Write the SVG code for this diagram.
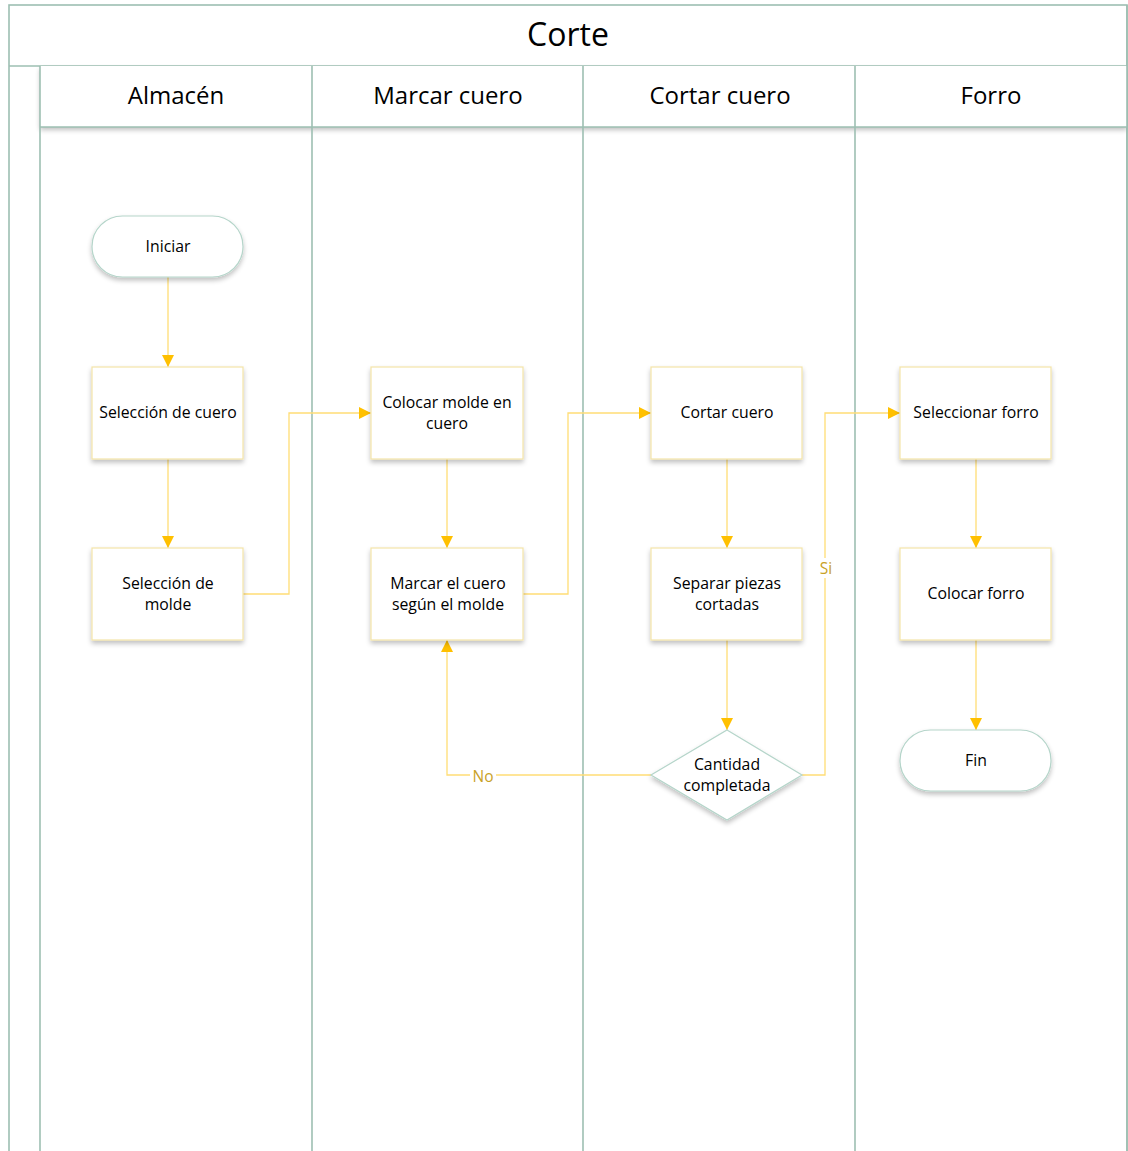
<svg xmlns="http://www.w3.org/2000/svg" width="1128" height="1151" viewBox="0 0 1128 1151">
<style>
.lane{fill:none;stroke:#9DBFB2;stroke-width:1.6}
.box{fill:#fff;stroke:#F3E4A9;stroke-width:1.2}
.term{fill:#fff;stroke:#B5D5CA;stroke-width:1.2}
.t{font-family:"Open Sans","Noto Sans",sans-serif;fill:#000;text-anchor:middle}
.nt{font-size:15.8px}
.hd{font-size:24px}
.lbl{font-family:"Open Sans","Noto Sans",sans-serif;font-size:15.5px;fill:#C9A227;text-anchor:middle}
.c{fill:none;stroke:#FFDD75;stroke-width:1.3}
</style>
<defs>
<filter id="sh" x="-20%" y="-20%" width="140%" height="150%">
<feGaussianBlur in="SourceAlpha" stdDeviation="2.5"/>
<feOffset dx="0" dy="3" result="b"/>
<feComponentTransfer><feFuncA type="linear" slope="0.25"/></feComponentTransfer>
<feMerge><feMergeNode/><feMergeNode in="SourceGraphic"/></feMerge>
</filter>
<marker id="ar" markerWidth="12" markerHeight="12" viewBox="0 0 12 12" refX="12" refY="6" orient="auto" markerUnits="userSpaceOnUse">
<path d="M0,0 L12,6 L0,12 Z" fill="#FFC000"/>
</marker>
</defs>
<rect width="1128" height="1151" fill="#fff"/>
<g id="pool">
<rect x="9" y="5" width="1118" height="1160" class="lane"/>
<line x1="9" y1="66" x2="1127" y2="66" class="lane"/>
<text x="568" y="46" class="t" font-size="32">Corte</text>
<rect x="40" y="66" width="1087" height="61" fill="#fff" filter="url(#sh)"/>
<line x1="40" y1="127" x2="1127" y2="127" class="lane"/>
<line x1="40" y1="66" x2="40" y2="1151" class="lane"/>
<line x1="312" y1="66" x2="312" y2="1151" class="lane"/>
<line x1="583" y1="66" x2="583" y2="1151" class="lane"/>
<line x1="855" y1="66" x2="855" y2="1151" class="lane"/>
<line x1="1127" y1="5" x2="1127" y2="1151" class="lane"/>
<text x="176" y="104" class="t hd">Almacén</text>
<text x="448" y="104" class="t hd">Marcar cuero</text>
<text x="720" y="104" class="t hd">Cortar cuero</text>
<text x="991" y="104" class="t hd">Forro</text>
</g>
<g id="connectors">
<path class="c" d="M168,277 V367" marker-end="url(#ar)"/>
<path class="c" d="M168,459 V548" marker-end="url(#ar)"/>
<path class="c" d="M243,594 H289 V413 H371" marker-end="url(#ar)"/>
<path class="c" d="M447,459 V548" marker-end="url(#ar)"/>
<path class="c" d="M523,594 H568 V413 H651" marker-end="url(#ar)"/>
<path class="c" d="M727,459 V548" marker-end="url(#ar)"/>
<path class="c" d="M727,640 V730" marker-end="url(#ar)"/>
<path class="c" d="M651,775 H447 V640" marker-end="url(#ar)"/>
<path class="c" d="M802,775 H825 V413 H900" marker-end="url(#ar)"/>
<path class="c" d="M976,459 V548" marker-end="url(#ar)"/>
<path class="c" d="M976,640 V730" marker-end="url(#ar)"/>
<rect x="470" y="766" width="26" height="18" fill="#fff"/>
<text x="483" y="782" class="lbl">No</text>
<rect x="816" y="558" width="18" height="20" fill="#fff"/>
<text x="826" y="574" class="lbl">Si</text>
</g>
<g id="iniciar">
<rect x="92" y="216" width="151" height="61" rx="30.5" class="term" filter="url(#sh)"/>
<text x="168" y="252" class="t nt">Iniciar</text>
</g>
<g id="seleccion-cuero">
<rect x="92" y="367" width="151" height="92" class="box" filter="url(#sh)"/>
<text x="168" y="418" class="t nt">Selección de cuero</text>
</g>
<g id="seleccion-molde">
<rect x="92" y="548" width="151" height="92" class="box" filter="url(#sh)"/>
<text x="168" y="589" class="t nt">Selección de</text>
<text x="168" y="610" class="t nt">molde</text>
</g>
<g id="colocar-molde">
<rect x="371" y="367" width="152" height="92" class="box" filter="url(#sh)"/>
<text x="447" y="408" class="t nt">Colocar molde en</text>
<text x="447" y="429" class="t nt">cuero</text>
</g>
<g id="marcar-cuero">
<rect x="371" y="548" width="152" height="92" class="box" filter="url(#sh)"/>
<text x="448" y="589" class="t nt">Marcar el cuero</text>
<text x="448" y="610" class="t nt">según el molde</text>
</g>
<g id="cortar-cuero">
<rect x="651" y="367" width="151" height="92" class="box" filter="url(#sh)"/>
<text x="727" y="418" class="t nt">Cortar cuero</text>
</g>
<g id="separar-piezas">
<rect x="651" y="548" width="151" height="92" class="box" filter="url(#sh)"/>
<text x="727" y="589" class="t nt">Separar piezas</text>
<text x="727" y="610" class="t nt">cortadas</text>
</g>
<g id="cantidad">
<path d="M727,730 L802,775 L727,820 L651,775 Z" class="term" filter="url(#sh)"/>
<text x="727" y="770" class="t nt">Cantidad</text>
<text x="727" y="791" class="t nt">completada</text>
</g>
<g id="seleccionar-forro">
<rect x="900" y="367" width="151" height="92" class="box" filter="url(#sh)"/>
<text x="976" y="418" class="t nt">Seleccionar forro</text>
</g>
<g id="colocar-forro">
<rect x="900" y="548" width="151" height="92" class="box" filter="url(#sh)"/>
<text x="976" y="599" class="t nt">Colocar forro</text>
</g>
<g id="fin">
<rect x="900" y="730" width="151" height="61" rx="30.5" class="term" filter="url(#sh)"/>
<text x="976" y="766" class="t nt">Fin</text>
</g>
</svg>
